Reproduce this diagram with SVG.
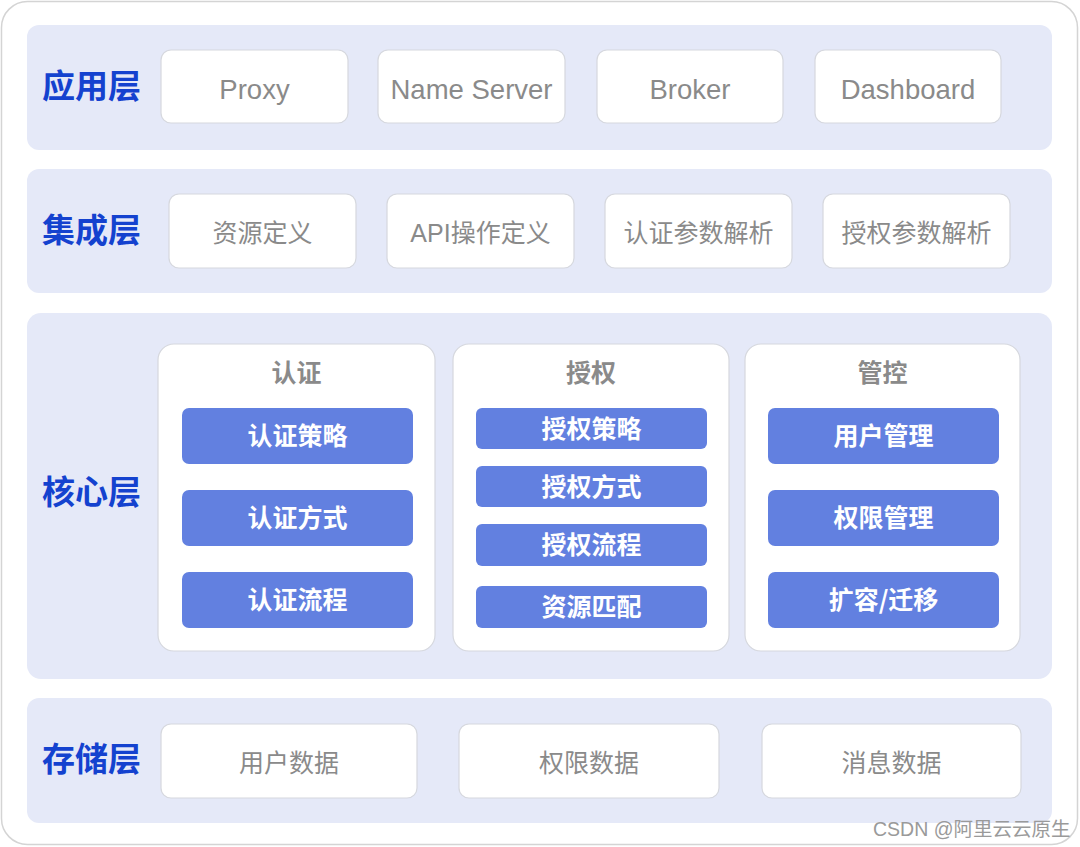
<svg xmlns="http://www.w3.org/2000/svg" width="1080" height="847" viewBox="0 0 1080 847">
<style>
.band{fill:#e5e9f8}
.lbl{font-family:"Noto Sans CJK SC","Liberation Sans",sans-serif;font-size:33px;font-weight:bold;fill:#1442cf}
.box{fill:#fff;stroke:#d6d8de;stroke-width:1.2}
.bt{font-family:"Liberation Sans","Noto Sans CJK SC",sans-serif;font-size:25px;fill:#8a8a8a;text-anchor:middle}
.en{font-size:27.5px}
.ct{font-family:"Noto Sans CJK SC",sans-serif;font-size:25px;font-weight:bold;fill:#8a8a8a;text-anchor:middle}
.blue{fill:#6280e0}
.wt{font-family:"Noto Sans CJK SC",sans-serif;font-size:25px;font-weight:bold;fill:#fff;text-anchor:middle}
</style>
<rect x="1.5" y="1.5" width="1076" height="843" rx="26" fill="#fff" stroke="#d4d4d4" stroke-width="1.5"/>
<g id="app-layer">
<rect class="band" x="27" y="25" width="1025" height="125" rx="12"/>
<text class="lbl" x="42" y="98">应用层</text>
<g id="proxy"><rect class="box" x="161" y="50" width="187" height="73" rx="10"/><text class="bt en" x="254.5" y="99">Proxy</text></g>
<g id="nameserver"><rect class="box" x="378" y="50" width="187" height="73" rx="10"/><text class="bt en" x="471.5" y="99">Name Server</text></g>
<g id="broker"><rect class="box" x="597" y="50" width="186" height="73" rx="10"/><text class="bt en" x="690" y="99">Broker</text></g>
<g id="dashboard"><rect class="box" x="815" y="50" width="186" height="73" rx="10"/><text class="bt en" x="908" y="99">Dashboard</text></g>
</g>
<g id="integration-layer">
<rect class="band" x="27" y="169" width="1025" height="124" rx="12"/>
<text class="lbl" x="42" y="242">集成层</text>
<g id="res-def"><rect class="box" x="169" y="194" width="187" height="74" rx="10"/><text class="bt" x="262.5" y="242">资源定义</text></g>
<g id="api-def"><rect class="box" x="387" y="194" width="187" height="74" rx="10"/><text class="bt" x="480.5" y="242">API操作定义</text></g>
<g id="authn-parse"><rect class="box" x="605" y="194" width="187" height="74" rx="10"/><text class="bt" x="698.5" y="242">认证参数解析</text></g>
<g id="authz-parse"><rect class="box" x="823" y="194" width="187" height="74" rx="10"/><text class="bt" x="916.5" y="242">授权参数解析</text></g>
</g>
<g id="core-layer">
<rect class="band" x="27" y="313" width="1025" height="366" rx="14"/>
<text class="lbl" x="42" y="504">核心层</text>
<g id="authn">
<rect class="box" x="158" y="344" width="277" height="307" rx="16"/>
<text class="ct" x="296.5" y="382">认证</text>
<rect class="blue" x="182" y="408" width="231" height="56" rx="7"/><text class="wt" x="297.5" y="445">认证策略</text>
<rect class="blue" x="182" y="490" width="231" height="56" rx="7"/><text class="wt" x="297.5" y="527">认证方式</text>
<rect class="blue" x="182" y="572" width="231" height="56" rx="7"/><text class="wt" x="297.5" y="609">认证流程</text>
</g>
<g id="authz">
<rect class="box" x="453" y="344" width="276" height="307" rx="16"/>
<text class="ct" x="591" y="382">授权</text>
<rect class="blue" x="476" y="408" width="231" height="41" rx="6"/><text class="wt" x="591.5" y="438">授权策略</text>
<rect class="blue" x="476" y="466" width="231" height="41" rx="6"/><text class="wt" x="591.5" y="496">授权方式</text>
<rect class="blue" x="476" y="524" width="231" height="42" rx="6"/><text class="wt" x="591.5" y="554">授权流程</text>
<rect class="blue" x="476" y="586" width="231" height="42" rx="6"/><text class="wt" x="591.5" y="616">资源匹配</text>
</g>
<g id="mgmt">
<rect class="box" x="745" y="344" width="275" height="307" rx="16"/>
<text class="ct" x="882.5" y="382">管控</text>
<rect class="blue" x="768" y="408" width="231" height="56" rx="7"/><text class="wt" x="883.5" y="445">用户管理</text>
<rect class="blue" x="768" y="490" width="231" height="56" rx="7"/><text class="wt" x="883.5" y="527">权限管理</text>
<rect class="blue" x="768" y="572" width="231" height="56" rx="7"/><text class="wt" x="883.5" y="609">扩容/迁移</text>
</g>
</g>
<g id="storage-layer">
<rect class="band" x="27" y="698" width="1025" height="125" rx="12"/>
<text class="lbl" x="42" y="771">存储层</text>
<g id="user-data"><rect class="box" x="161" y="724" width="256" height="74" rx="10"/><text class="bt" x="289" y="772">用户数据</text></g>
<g id="perm-data"><rect class="box" x="459" y="724" width="260" height="74" rx="10"/><text class="bt" x="589" y="772">权限数据</text></g>
<g id="msg-data"><rect class="box" x="762" y="724" width="259" height="74" rx="10"/><text class="bt" x="891.5" y="772">消息数据</text></g>
</g>
<g id="connectors"></g>
<text x="873" y="836" font-family="Liberation Sans,Noto Sans CJK SC,sans-serif" font-size="19.5" fill="#9a9a9a">CSDN @阿里云云原生</text>
</svg>
